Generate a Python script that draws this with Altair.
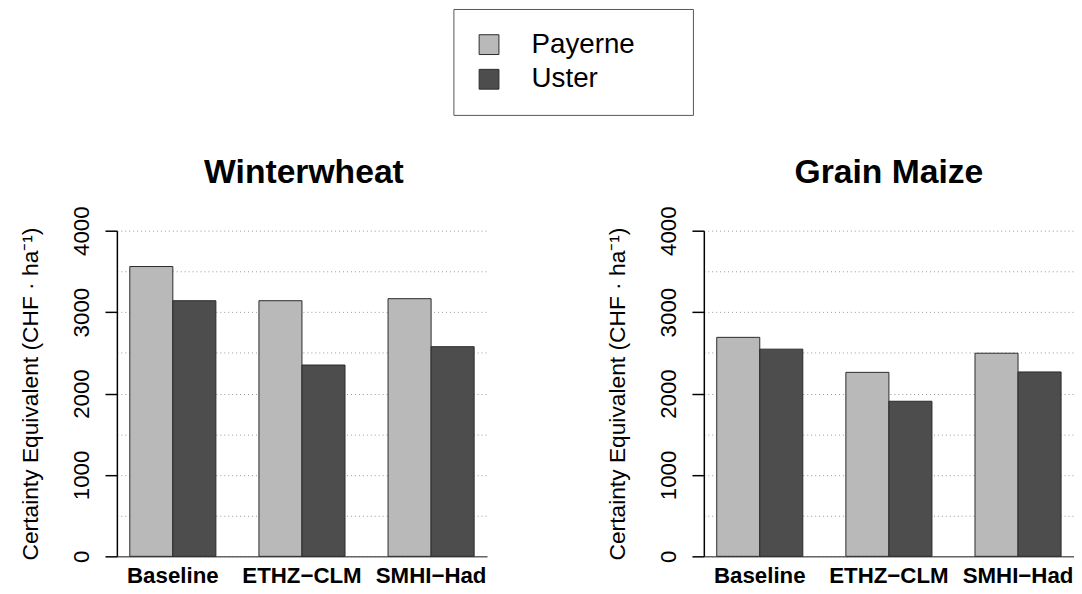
import altair as alt
import pandas as pd

scenarios = ["Baseline", "ETHZ\u2212CLM", "SMHI\u2212Had"]
sites = ["Payerne", "Uster"]
wheat_payerne = [3560, 3140, 3165]
wheat_uster = [3140, 2350, 2575]
maize_payerne = [2690, 2260, 2495]
maize_uster = [2545, 1905, 2265]
grid_values = [0, 500, 1000, 1500, 2000, 2500, 3000, 3500, 4000]
y_title = "Certainty Equivalent (CHF \u00b7 ha\u207b\u00b9)"
site_colors = ["#b9b9b9", "#4d4d4d"]

FONT = "Liberation Sans"
PLOT_W = 374
PLOT_H = 329
PAD = "\u00a0\u00a0\u2800"


def panel(title, pay, ust, dx):
    df = pd.DataFrame({
        "scenario": scenarios * 2,
        "site": [sites[0]] * 3 + [sites[1]] * 3,
        "value": pay + ust,
    })
    return alt.Chart(df).mark_bar(stroke="#2a2a2a", strokeWidth=1).encode(
        x=alt.X(
            "scenario:N", sort=scenarios, title=None,
            scale=alt.Scale(paddingInner=1 / 3, paddingOuter=0.1),
            axis=alt.Axis(
                labelAngle=0, labelFontSize=22.5, labelFontWeight="bold",
                labelColor="black", labelPadding=8, ticks=False, grid=False,
                domainColor="#666666", domainWidth=1.5,
            ),
        ),
        xOffset=alt.XOffset("site:N", sort=sites),
        y=alt.Y(
            "value:Q", title=y_title,
            scale=alt.Scale(domain=[0, 4000], nice=False, zero=True),
            axis=alt.Axis(
                values=grid_values, format="d",
                grid=True, gridColor="#999999", gridDash=[1, 3], gridWidth=1,
                labelExpr="datum.value % 1000 == 0 ? datum.label : ''",
                tickOpacity={"condition": {"test": "datum.value % 1000 == 0", "value": 1}, "value": 0},
                labelAngle=270, labelAlign="center", labelBaseline="alphabetic",
                labelFontSize=22.5, labelColor="black", labelPadding=17,
                tickSize=12, tickColor="black", tickWidth=1.5,
                domainColor="black", domainWidth=1.5,
                titleFontSize=23, titleFontWeight="normal", titleColor="black",
                titleAngle=270, titleAlign="center", titleBaseline="alphabetic",
                titleX=-80, titleY=PLOT_H / 2,
            ),
        ),
        color=alt.Color(
            "site:N",
            scale=alt.Scale(domain=sites, range=site_colors),
            legend=alt.Legend(
                title=None, orient="none", legendX=340, legendY=-224,
                direction="vertical", symbolType="square", symbolSize=400,
                symbolStrokeColor="#2a2a2a", symbolStrokeWidth=1,
                symbolOpacity=1,
                labelFontSize=28, labelColor="black", labelOffset=29,
                rowPadding=7, padding=22, strokeColor="#555555",
                labelExpr="datum.label + '" + PAD + "'",
            ),
        ),
    ).properties(
        width=PLOT_W, height=PLOT_H,
        title=alt.TitleParams(
            title, fontSize=34, fontWeight="bold", color="black",
            anchor="middle", frame="group", dx=dx, dy=29, offset=18,
            baseline="alphabetic",
        ),
    )


left = panel("Winterwheat", wheat_payerne, wheat_uster, 2)
right = panel("Grain Maize", maize_payerne, maize_uster, 0)

chart = alt.hconcat(left, right, spacing=120).properties(
    padding={"left": 11, "top": -3, "right": 0, "bottom": 0}
).configure(font=FONT).configure_view(strokeWidth=0)

chart.save("out.html", embed_options={"renderer": "svg", "actions": False})
